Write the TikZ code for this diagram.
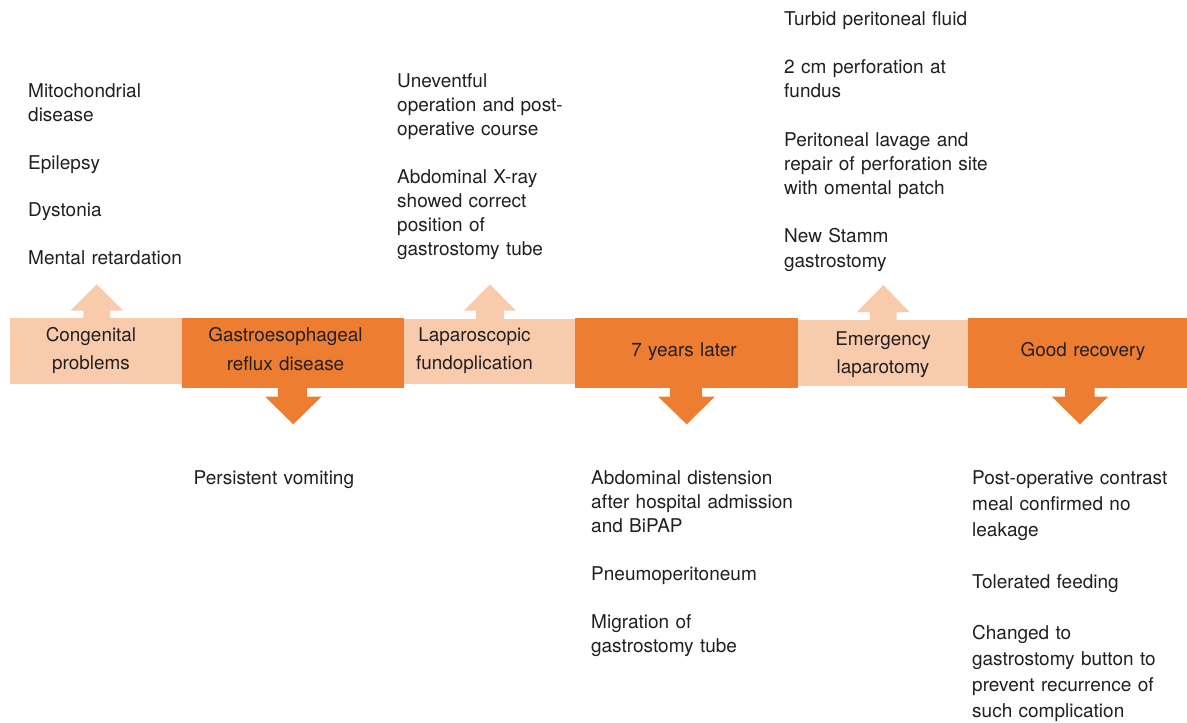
\documentclass[tikz,border=0pt]{standalone}
\usepackage{fontspec}
\setmainfont{TeX Gyre Heros}
\definecolor{lightor}{HTML}{F8CBAD}
\definecolor{darkor}{HTML}{ED7D31}
\definecolor{ink}{HTML}{231F20}
\begin{document}
\begin{tikzpicture}[x=1pt,y=-1pt,
  boxbase/.style={draw=none, inner sep=0pt, outer sep=0pt},
  lightbox/.style={boxbase, fill=lightor},
  darkbox/.style={boxbase, fill=darkor},
  lbl/.style={text=ink, font=\fontsize{18.9}{28.5}\selectfont, align=center, text width=200pt, inner sep=0pt, anchor=base},
  note/.style={text=ink, font=\fontsize{19}{#1}\selectfont, align=left, text width=230pt, inner sep=0pt, anchor=base west},
]
\useasboundingbox[fill=white] (0,0) rectangle (1187,723);

% boxes
\node[lightbox, minimum width=172pt, minimum height=66pt] (b1) at (96,351) {};
\node[darkbox,  minimum width=222pt, minimum height=70pt] (b2) at (293,353) {};
\node[lightbox, minimum width=171pt, minimum height=65pt] (b3) at (489.5,351.5) {};
\node[darkbox,  minimum width=223pt, minimum height=70pt] (b4) at (686.5,353) {};
\node[lightbox, minimum width=170pt, minimum height=66pt] (b5) at (883,353) {};
\node[darkbox,  minimum width=219pt, minimum height=70pt] (b6) at (1077.5,353) {};

% up arrows (light)
\fill[lightor] (83.3,319) -- (83.3,310.7) -- (70.5,310.7) -- (96.7,284.3) -- (123,310.7) -- (110.2,310.7) -- (110.2,319) -- cycle;
\fill[lightor] (476,320) -- (476,310.7) -- (464,310.7) -- (490,284.3) -- (516,310.7) -- (504,310.7) -- (504,320) -- cycle;
\fill[lightor] (870,321) -- (870,312) -- (857,312) -- (883.3,285) -- (909.5,312) -- (896.5,312) -- (896.5,321) -- cycle;

% down arrows (dark)
\fill[darkor] (278,387) -- (278,396.5) -- (265,396.5) -- (293.3,424.3) -- (321.7,396.5) -- (307,396.5) -- (307,387) -- cycle;
\fill[darkor] (670,387) -- (670,396.5) -- (658,396.5) -- (686.7,424.3) -- (715,396.5) -- (702,396.5) -- (702,387) -- cycle;
\fill[darkor] (1065,387) -- (1065,396.5) -- (1051.7,396.5) -- (1080,424.3) -- (1108.3,396.5) -- (1094.5,396.5) -- (1094.5,387) -- cycle;

% box labels
\node[lbl] (t1) at (91,341) {Congenital\\problems};
\node[lbl] (t2) at (285.5,341.5) {Gastroesophageal\\reflux disease};
\node[lbl] (t3) at (474.5,341) {Laparoscopic\\fundoplication};
\node[lbl] (t4) at (684,356) {7 years later};
\node[lbl] (t5) at (883,345) {Emergency\\laparotomy};
\node[lbl] (t6) at (1083,356) {Good recovery};

% notes above
\node[note=23.9] (n1) at (28,97.3) {Mitochondrial\\disease\\[23.9pt]Epilepsy\\[23.9pt]Dystonia\\[23.9pt]Mental retardation};
\node[note=24] (n3) at (397,87.3) {Uneventful\\operation and post-\\operative course\\[24pt]Abdominal X-ray\\showed correct\\position of\\gastrostomy tube};
\node[note=24.2] (n5) at (784,25.2) {Turbid peritoneal fluid\\[24.2pt]2 cm perforation at\\fundus\\[24.2pt]Peritoneal lavage and\\repair of perforation site\\with omental patch\\[24.2pt]New Stamm\\gastrostomy};

% notes below
\node[note=24] (n2) at (193.5,484) {Persistent vomiting};
\node[note=24] (n4) at (591,484.3) {Abdominal distension\\after hospital admission\\and BiPAP\\[24pt]Pneumoperitoneum\\[24pt]Migration of\\gastrostomy tube};
\node[note=25.9] (n6) at (972,484.5) {Post-operative contrast\\meal confirmed no\\leakage\\[25.9pt]Tolerated feeding\\[25.9pt]Changed to\\gastrostomy button to\\prevent recurrence of\\such complication};
\end{tikzpicture}
\end{document}
